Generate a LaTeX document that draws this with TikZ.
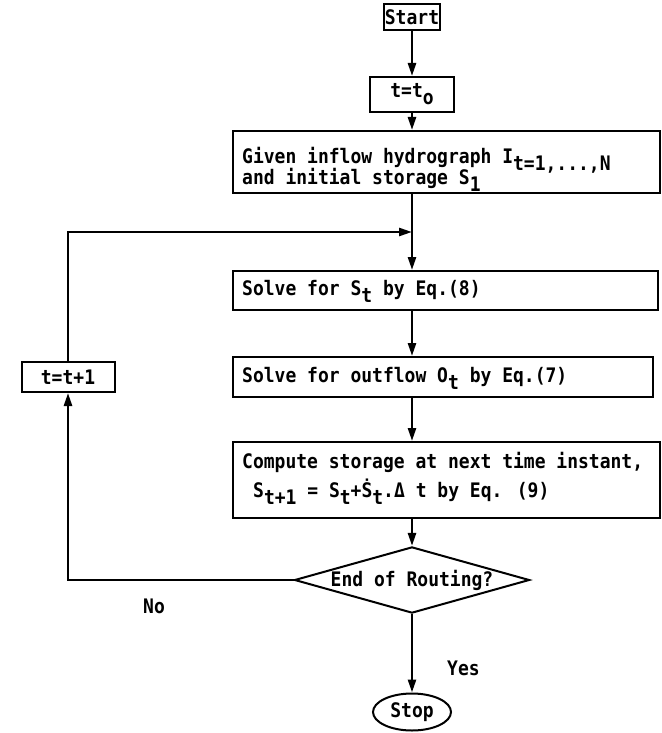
\documentclass[tikz,border=0pt]{standalone}
\usepackage{fontspec}
\setmainfont[FakeStretch=0.9]{DejaVu Sans Mono}
\usetikzlibrary{shapes.geometric,arrows.meta}
\newcommand{\lowsub}[1]{\raisebox{-7pt}{#1}}
\begin{document}
\begin{tikzpicture}[x=1pt,y=-1pt,
  every node/.style={font=\fontsize{20}{22}\selectfont\bfseries},
  boxstyle/.style={draw, line width=2pt, inner sep=0pt},
  txt/.style={inner sep=0pt, anchor=base west},
  conn/.style={line width=2.5pt, -{Triangle[length=13pt,width=8pt]}},
  wire/.style={line width=2.5pt}]
\useasboundingbox (0,0) rectangle (661,733);

% boxes
\node[boxstyle, minimum width=56pt, minimum height=26pt] (start) at (412,17) {Start};
\node[boxstyle, minimum width=84pt, minimum height=35pt] (t0) at (412,94.5) {t=t\lowsub{o}};

\node[boxstyle, minimum width=427pt, minimum height=62pt] (given) at (446.5,162) {};
\node[txt] (givenA) at (242,163) {Given inflow hydrograph I\lowsub{t=1,...,N}};
\node[txt] (givenB) at (242,184) {and initial storage S\lowsub{1}};

\node[boxstyle, minimum width=425pt, minimum height=39pt] (solveS) at (445.5,290.5) {};
\node[txt] (solveSt) at (242,295) {Solve for S\lowsub{t} by Eq.(8)};

\node[boxstyle, minimum width=420pt, minimum height=40pt] (solveO) at (443,377) {};
\node[txt] (solveOt) at (242,382) {Solve for outflow O\lowsub{t} by Eq.(7)};

\node[boxstyle, minimum width=427pt, minimum height=76pt] (compute) at (446.5,480) {};
\node[txt] (computeA) at (242,468) {Compute storage at next time instant,};
\node[txt] (computeB) at (253,497) {S\lowsub{t+1} = S\lowsub{t}+Ṡ\lowsub{t}.Δ t by Eq. (9)};

\node[boxstyle, minimum width=93pt, minimum height=30pt] (tt1) at (68,377) {t=t+1};

\node[diamond, draw, line width=2pt, aspect=3.55, minimum width=231pt,
      minimum height=65pt, inner sep=0pt] (dec) at (412,580) {End of Routing?};

\node[ellipse, draw, line width=2pt, minimum width=78pt, minimum height=37pt,
      inner sep=0pt] (stop) at (412,712) {Stop};

\node[txt] (no) at (143,613) {No};
\node[txt] (yes) at (447,675) {Yes};

% connectors
\coordinate (join) at (412,232);
\draw[conn] (start) -- (t0);
\draw[conn] (t0) -- (t0 |- given.north);
\draw[wire] (t0 |- given.south) -- (join);
\draw[conn] (join) -- (join |- solveS.north);
\draw[conn] (join |- solveS.south) -- (join |- solveO.north);
\draw[conn] (join |- solveO.south) -- (join |- compute.north);
\draw[conn] (join |- compute.south) -- (dec.north);
\draw[conn] (dec.south) -- (stop.north);
\coordinate (corner) at (tt1.south |- dec.west);
\draw[conn] (dec.west) -- (corner) -- (tt1.south);
\coordinate (topleft) at (tt1.north |- join);
\draw[conn] (tt1.north) -- (topleft) -- (join);
\end{tikzpicture}
\end{document}
